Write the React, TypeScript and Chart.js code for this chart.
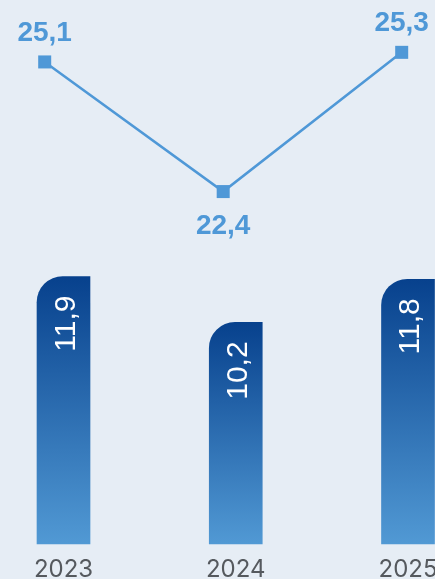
import React, { useEffect, useRef } from "react";
import { Chart, registerables } from "chart.js";

Chart.register(...registerables);

// ---- data ----
const years: string[] = ["2023", "2024", "2025"];
const barValues: number[] = [11.9, 10.2, 11.8];
const lineValues: number[] = [25.1, 22.4, 25.3];

// ---- axis ranges ----
const BAR_X_MIN = -0.3687;
const BAR_X_MAX = 2.418;
const LINE_X_MIN = -0.2504;
const LINE_X_MAX = 2.4387;
const BAR_MIN = 1.97;
const BAR_MAX = 22.17;
const LINE_MIN = 15.06;
const LINE_MAX = 26.39;

// ---- styles ----
const BG = "#e6edf5";
const LINE_COLOR = "#4f98d7";
const BAR_TOP = "#07418d";
const BAR_BOTTOM = "#5199d4";
const TICK_COLOR = "#55595e";

const fmt = (v: number) => v.toFixed(1).replace(".", ",");

export default function App() {
  const ref = useRef<HTMLCanvasElement>(null);

  useEffect(() => {
    const canvas = ref.current;
    if (!canvas) return;

    const labelsPlugin = {
      id: "valueLabels",
      afterDatasetsDraw(chart: any) {
        const ctx = chart.ctx as CanvasRenderingContext2D;
        ctx.save();
        const barMeta = chart.getDatasetMeta(0);
        ctx.fillStyle = "#ffffff";
        ctx.font = "30px 'Liberation Sans', Arial, sans-serif";
        ctx.textAlign = "right";
        ctx.textBaseline = "middle";
        barMeta.data.forEach((el: any, i: number) => {
          ctx.save();
          ctx.translate(el.x, el.y + 19);
          ctx.rotate(-Math.PI / 2);
          ctx.fillText(fmt(barValues[i]), 0, 3);
          ctx.restore();
        });
        const lineMeta = chart.getDatasetMeta(1);
        ctx.fillStyle = LINE_COLOR;
        ctx.font = "bold 28px 'Liberation Sans', Arial, sans-serif";
        ctx.textAlign = "center";
        ctx.textBaseline = "alphabetic";
        lineMeta.data.forEach((el: any, i: number) => {
          const v = lineValues[i];
          const prev = lineValues[i - 1];
          const next = lineValues[i + 1];
          const isMin =
            (prev === undefined || v < prev) && (next === undefined || v < next);
          const y = isMin ? el.y + 42.5 : el.y - 21;
          ctx.fillText(fmt(v), el.x, y);
        });
        ctx.restore();
      },
    };

    const chart = new Chart(canvas, {
      type: "bar",
      data: {
        datasets: [
          {
            type: "bar",
            data: barValues.map((v, i) => ({ x: i, y: v })),
            xAxisID: "x",
            yAxisID: "y",
            grouped: false,
            barThickness: 53,
            maxBarThickness: 53,
            base: BAR_MIN,
            borderRadius: { topLeft: 26, topRight: 0, bottomLeft: 0, bottomRight: 0 },
            borderSkipped: "bottom",
            clip: false as any,
            backgroundColor: (c: any) => {
              const chart = c.chart;
              const { ctx, chartArea, scales } = chart;
              if (!chartArea || c.dataIndex === undefined) return BAR_BOTTOM;
              const top = scales.y.getPixelForValue(barValues[c.dataIndex]);
              const g = ctx.createLinearGradient(0, top, 0, chartArea.bottom);
              g.addColorStop(0, BAR_TOP);
              g.addColorStop(1, BAR_BOTTOM);
              return g;
            },
          } as any,
          {
            type: "line",
            data: lineValues.map((v, i) => ({ x: i, y: v })),
            xAxisID: "x2",
            yAxisID: "y2",
            borderColor: LINE_COLOR,
            borderWidth: 2.5,
            tension: 0,
            pointStyle: "rect",
            pointRadius: 9.2,
            pointBackgroundColor: LINE_COLOR,
            pointBorderWidth: 0,
            clip: false as any,
          } as any,
        ],
      },
      options: {
        animation: false,
        responsive: false,
        layout: { autoPadding: false, padding: 0 },
        plugins: {
          legend: { display: false },
          tooltip: { enabled: false },
        },
        scales: {
          x: {
            type: "linear",
            offset: false,
            min: BAR_X_MIN,
            max: BAR_X_MAX,
            grid: { display: false, drawTicks: false, tickLength: 0, offset: false },
            border: { display: false },
            ticks: {
              stepSize: 1,
              includeBounds: false,
              padding: 14,
              color: TICK_COLOR,
              font: { family: "Inter, 'Noto Sans', sans-serif", size: 24, lineHeight: 1 },
              maxRotation: 0,
              autoSkip: false,
              callback: (v: number) => years[v] ?? "",
            },
          },
          x2: {
            type: "linear",
            display: false,
            offset: false,
            grid: { offset: false },
            min: LINE_X_MIN,
            max: LINE_X_MAX,
          },
          y: {
            display: false,
            min: BAR_MIN,
            max: BAR_MAX,
          },
          y2: {
            display: false,
            min: LINE_MIN,
            max: LINE_MAX,
          },
        },
      } as any,
      plugins: [labelsPlugin],
    });

    return () => chart.destroy();
  }, []);

  return (
    <div
      style={{
        position: "absolute",
        left: 0,
        top: 0,
        width: 435,
        height: 579,
        overflow: "hidden",
        background: BG,
      }}
    >
      <canvas ref={ref} width={480} height={596} style={{ display: "block" }} />
    </div>
  );
}
